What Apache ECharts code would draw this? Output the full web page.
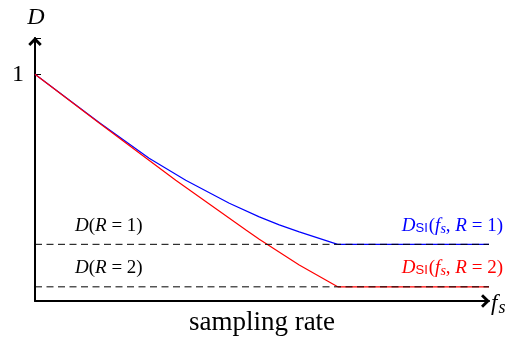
<!DOCTYPE html>
<html>
<head>
<meta charset="utf-8">
<script src="https://cdn.jsdelivr.net/npm/echarts@6/dist/echarts.min.js"></script>
<style>
html, body { margin: 0; padding: 0; background: #fff; }
#main { width: 520px; height: 337px; }
</style>
</head>
<body>
<div id="main"></div>
<script>
// sampling rate (x) and distortion (y)
const blueX = [0, 0.212, 0.377, 0.498, 0.642, 0.741, 0.807, 0.873, 1.0]
const blueY = [1, 0.787, 0.630, 0.533, 0.431, 0.371, 0.336, 0.305, 0.25]
const redX = [0, 0.212, 0.465, 0.697, 0.741, 0.873, 1.0]
const redY = [1, 0.785, 0.533, 0.313, 0.272, 0.159, 0.0625]
const flatX = [1.0, 1.5]
const dashX = [0, 1.5]
const levelR1 = 0.25
const levelR2 = 0.0625
const yTicks = [1]

const serif = 'Liberation Serif'
const arrow = 'path://M0,0L6,6.2L4.2,8L0,3.8L-4.2,8L-6,6.2Z'
const pair = (xs, ys) => xs.map((x, i) => [x, ys[i]])
const flat = (xs, v) => xs.map(x => [x, v])

const chart = echarts.init(document.getElementById('main'))

const axisLine = {
    show: true,
    symbol: ['none', arrow],
    symbolSize: [14, 9],
    symbolOffset: [0, -3.5],
    lineStyle: { color: '#000', width: 2 }
}

const mathRich = (fill) => ({
    i: { fontFamily: serif, fontStyle: 'italic', fontSize: 19, fill, lineHeight: 24, verticalAlign: 'middle' },
    n: { fontFamily: serif, fontSize: 19, fill, lineHeight: 24, verticalAlign: 'middle' },
    sf: { fontFamily: 'Liberation Sans', fontSize: 13, fill, lineHeight: 24, verticalAlign: 'bottom', padding: [0, 1, 3, 0] },
    sub: { fontFamily: serif, fontStyle: 'italic', fontSize: 14, fill, lineHeight: 24, verticalAlign: 'bottom', padding: [0, 0, 2, 0] }
})

chart.setOption({
    animation: false,
    grid: { left: 35, right: 31, top: 38, bottom: 36, containLabel: false, outerBoundsMode: 'none' },
    xAxis: {
        type: 'value',
        min: 0,
        max: 1.5,
        name: 'sampling rate',
        nameLocation: 'middle',
        nameGap: 8,
        nameTextStyle: { fontFamily: serif, fontSize: 27, color: '#000' },
        axisLine,
        axisTick: { show: false },
        axisLabel: { show: false },
        splitLine: { show: false }
    },
    yAxis: {
        type: 'value',
        min: 0,
        max: 1.16,
        interval: 1,
        name: 'distortion',
        nameLocation: 'middle',
        nameRotate: 90,
        nameGap: 12,
        nameTextStyle: { fontFamily: serif, fontSize: 27, color: '#000' },
        axisLine,
        axisTick: { show: true, inside: true, length: 6, lineStyle: { color: '#000', width: 1 } },
        axisLabel: {
            margin: 11,
            fontFamily: serif,
            fontSize: 24,
            color: '#000',
            formatter: v => yTicks.includes(v) ? String(v) : ''
        },
        splitLine: { show: false }
    },
    series: [
        { type: 'line', data: pair(blueX, blueY), showSymbol: false, lineStyle: { color: '#0000ff', width: 1.2 } },
        { type: 'line', data: flat(flatX, levelR1), showSymbol: false, lineStyle: { color: '#0000ff', width: 1.2 } },
        { type: 'line', data: pair(redX, redY), showSymbol: false, lineStyle: { color: '#ff0000', width: 1.2 } },
        { type: 'line', data: flat(flatX, levelR2), showSymbol: false, lineStyle: { color: '#ff0000', width: 1.2 } },
        { type: 'line', data: flat(dashX, levelR1), showSymbol: false, lineStyle: { color: '#000', width: 1, type: [7, 4.5] } },
        { type: 'line', data: flat(dashX, levelR2), showSymbol: false, lineStyle: { color: '#000', width: 1, type: [7, 4.5] } }
    ],
    graphic: [
        { type: 'text', x: 36, y: 18, style: { text: 'D', fontFamily: serif, fontStyle: 'italic', fontSize: 24, fill: '#000', align: 'center', verticalAlign: 'middle' } },
        { type: 'text', x: 491, y: 304, style: {
            text: '{i|f}{sub|s}', align: 'left', verticalAlign: 'middle',
            rich: {
                i: { fontFamily: serif, fontStyle: 'italic', fontSize: 23, fill: '#000', lineHeight: 26, verticalAlign: 'middle' },
                sub: { fontFamily: serif, fontStyle: 'italic', fontSize: 18, fill: '#000', lineHeight: 26, verticalAlign: 'bottom', padding: [0, 0, 0, 1] }
            }
        } },
        { type: 'text', x: 75, y: 226, style: { text: '{i|D}{n|(}{i|R}{n| = 1)}', align: 'left', verticalAlign: 'middle', rich: mathRich('#000') } },
        { type: 'text', x: 75, y: 268, style: { text: '{i|D}{n|(}{i|R}{n| = 2)}', align: 'left', verticalAlign: 'middle', rich: mathRich('#000') } },
        { type: 'text', x: 503, y: 226, style: { text: '{i|D}{sf|SI}{n|(}{i|f}{sub|s}{n|, }{i|R}{n| = 1)}', align: 'right', verticalAlign: 'middle', rich: mathRich('#0000ff') } },
        { type: 'text', x: 503, y: 268, style: { text: '{i|D}{sf|SI}{n|(}{i|f}{sub|s}{n|, }{i|R}{n| = 2)}', align: 'right', verticalAlign: 'middle', rich: mathRich('#ff0000') } }
    ]
})
</script>
</body>
</html>
